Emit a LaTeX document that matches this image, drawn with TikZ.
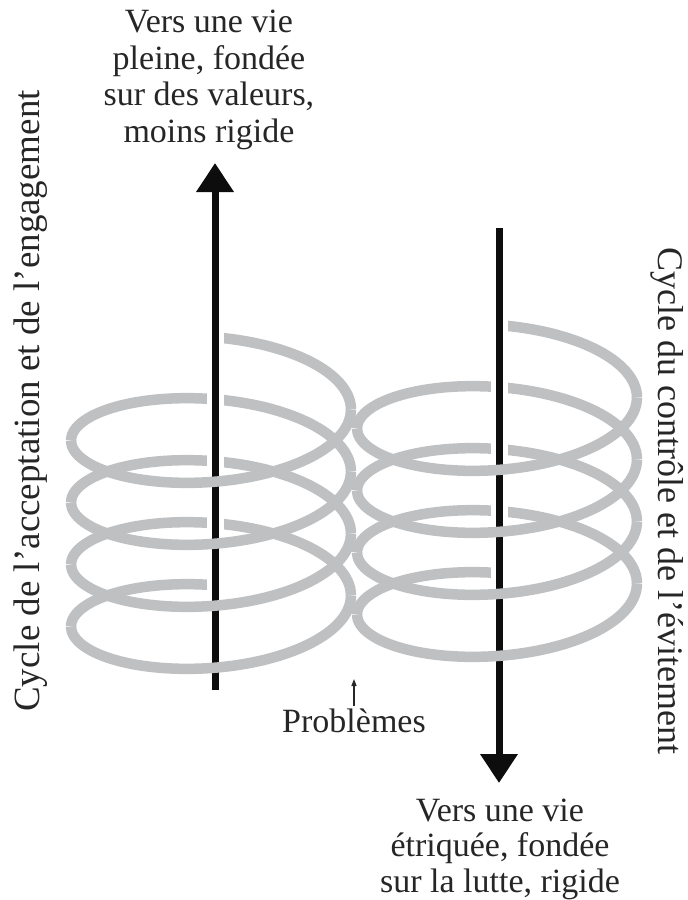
\documentclass[tikz,border=0pt]{standalone}
\usepackage{fontspec}
\setmainfont{Liberation Serif}
\usetikzlibrary{arrows.meta}
\definecolor{coilgray}{RGB}{190,192,194}
\definecolor{inkgray}{RGB}{38,38,38}

\begin{document}
\begin{tikzpicture}[
        x=1pt,
        y=-1pt,
        goal/.style={
            align=center,
            inner sep=0pt,
            text=inkgray,
            font=\fontsize{34}{35.5}\selectfont
        },
        side/.style={
            inner sep=0pt,
            text=inkgray,
            font=\fontsize{37}{40}\selectfont
        },
        coil/.style={
            draw=coilgray,
            line width=10.5pt
        },
        halo/.style={
            draw=white,
            line width=17pt
        },
        spine/.style={
            draw=black!95,
            line width=7pt,
            -{Triangle[width=36pt,length=29pt]}
        },
        pointer/.style={
            draw=inkgray,
            line width=1.4pt,
            shorten <=2pt,
            -{Triangle[width=5pt,length=7pt]}
        }
    ]

        \useasboundingbox (0,0) rectangle (688,900);

        \node[goal, font=\fontsize{34}{36.7}\selectfont] (upgoal) at (209,80) {Vers une vie\\pleine, fondée\\sur des valeurs,\\moins rigide};
        \node[goal] (downgoal) at (500,849) {Vers une vie\\étriquée, fondée\\sur la lutte, rigide};
        \node[goal, anchor=base] (problem) at (354,732) {Problèmes};
        \node[side, rotate=90] (accept) at (31,401) {Cycle de l’acceptation et de l’engagement};
        \node[side, rotate=-90, font=\fontsize{36}{40}\selectfont] (control) at (667,501) {Cycle du contrôle et de l’évitement};

        \coordinate (upfoot) at (215,690);
        \coordinate (uptip) at (215,163);
        \coordinate (downfoot) at (499,228);
        \coordinate (downtip) at (499,783);
        \coordinate (crossing) at (354,679);

        \foreach \a/\b in {0/90, 270/450, 630/810, 990/1170, 1350/1440}
            \draw[coil] plot[domain=\a:\b, samples=30, smooth, variable=\t]
                ({211+140*sin(\t)}, {394+\t/360*62-57*cos(\t)});
        \draw[halo] (upfoot) -- (uptip);
        \draw[spine] (upfoot) -- (uptip);
        \foreach \a/\b in {90/270, 450/630, 810/990, 1170/1350}
            \draw[coil] plot[domain=\a:\b, samples=30, smooth, variable=\t]
                ({211+140*sin(\t)}, {394+\t/360*62-57*cos(\t)});

        \foreach \a/\b in {0/90, 270/450, 630/810, 990/1170, 1350/1440}
            \draw[coil] plot[domain=\a:\b, samples=30, smooth, variable=\t]
                ({497+140*sin(\t)}, {382+\t/360*62-57*cos(\t)});
        \draw[halo] (downfoot) -- (downtip);
        \draw[spine] (downfoot) -- (downtip);
        \foreach \a/\b in {90/270, 450/630, 810/990, 1170/1350}
            \draw[coil] plot[domain=\a:\b, samples=30, smooth, variable=\t]
                ({497+140*sin(\t)}, {382+\t/360*62-57*cos(\t)});

        \draw[pointer] (problem.north) -- (crossing);

    \end{tikzpicture}
\end{document}
